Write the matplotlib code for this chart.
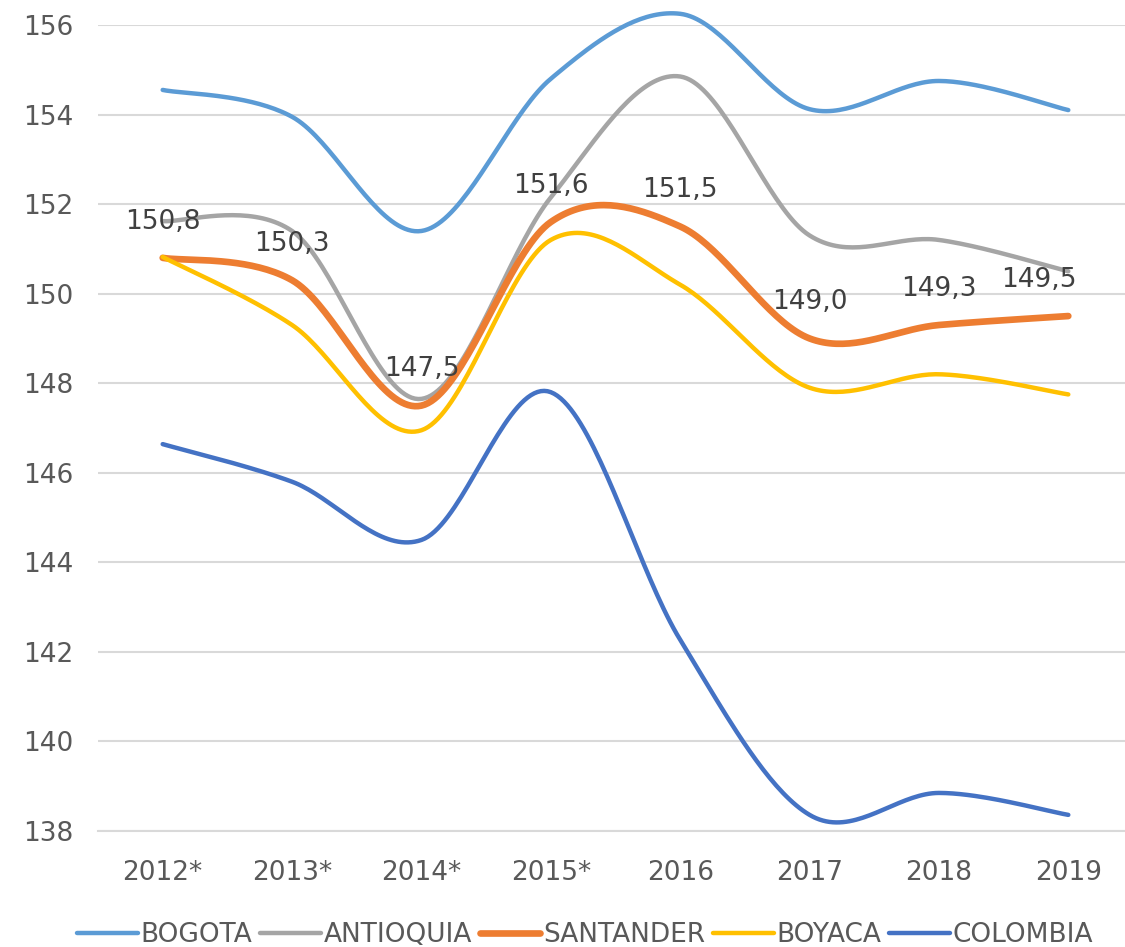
import numpy as np
import matplotlib.pyplot as plt

years = ["2012*", "2013*", "2014*", "2015*", "2016", "2017", "2018", "2019"]
bogota = [154.55, 153.95, 151.4, 154.8, 156.25, 154.12, 154.75, 154.1]
antioquia = [151.62, 151.4, 147.65, 152.15, 154.85, 151.3, 151.2, 150.5]
santander = [150.8, 150.3, 147.5, 151.6, 151.5, 149.0, 149.3, 149.5]
boyaca = [150.82, 149.3, 146.95, 151.2, 150.2, 147.9, 148.2, 147.75]
colombia = [146.64, 145.8, 144.5, 147.8, 142.27, 138.36, 138.85, 138.36]

series = [
    ("BOGOTA", bogota, "#5B9BD5", 3.2),
    ("ANTIOQUIA", antioquia, "#A5A5A5", 3.2),
    ("SANTANDER", santander, "#ED7D31", 4.8),
    ("BOYACA", boyaca, "#FFC000", 3.2),
    ("COLOMBIA", colombia, "#4472C4", 3.2),
]


def smooth(y, n=40):
    # Excel-style smoothed line: cubic Bezier segments with Catmull-Rom handles
    x = np.arange(len(y), dtype=float)
    p = np.column_stack([x, np.asarray(y, dtype=float)])
    pts = []
    t = np.linspace(0, 1, n)[:, None]
    for i in range(len(p) - 1):
        p0 = p[max(i - 1, 0)]
        p3 = p[min(i + 2, len(p) - 1)]
        c1 = p[i] + (p[i + 1] - p0) / 6
        c2 = p[i + 1] - (p3 - p[i]) / 6
        seg = ((1 - t) ** 3) * p[i] + 3 * ((1 - t) ** 2) * t * c1 + 3 * (1 - t) * t ** 2 * c2 + t ** 3 * p[i + 1]
        pts.append(seg if i == 0 else seg[1:])
    pts = np.vstack(pts)
    return pts[:, 0], pts[:, 1]


fig = plt.figure(figsize=(11.25, 9.47), dpi=100)
ax = fig.add_axes([98 / 1125, 1 - 831 / 947, 1035 / 1125, (831 - 25) / 947])

for name, vals, color, lw in series:
    sx, sy = smooth(vals)
    ax.plot(sx, sy, color=color, lw=lw, label=name, solid_capstyle="round",
            zorder=3, clip_on=False)

for i, v in enumerate(santander):
    label = f"{v:.1f}".replace(".", ",")
    if i == len(santander) - 1:
        ax.annotate(label, (i, v), xytext=(6, 26), textcoords="offset points",
                    ha="right", va="center", fontsize=19, color="#404040", zorder=4)
    else:
        ax.annotate(label, (i, v), xytext=(0, 26), textcoords="offset points",
                    ha="center", va="center", fontsize=19, color="#404040", zorder=4)

ax.set_xlim(-0.5, 7.5)
ax.set_ylim(138, 156)
ax.set_yticks(np.arange(138, 157, 2))
ax.set_xticks(range(len(years)))
ax.set_xticklabels(years)
ax.grid(axis="y", color="#D9D9D9", lw=1.5, zorder=0)
for s in ["top", "right", "left"]:
    ax.spines[s].set_visible(False)
ax.spines["bottom"].set_color("#D9D9D9")
ax.spines["bottom"].set_linewidth(1.5)
ax.tick_params(length=0, labelsize=19, labelcolor="#595959")
ax.tick_params(axis="y", pad=18)
ax.tick_params(axis="x", pad=21)

fig.legend(loc="lower center", bbox_to_anchor=(0.52, -0.026), ncol=5, frameon=False,
           fontsize=19, labelcolor="#595959", handlelength=2.3, handletextpad=0.1,
           columnspacing=0.3)

fig.savefig("out.png", dpi=100)
